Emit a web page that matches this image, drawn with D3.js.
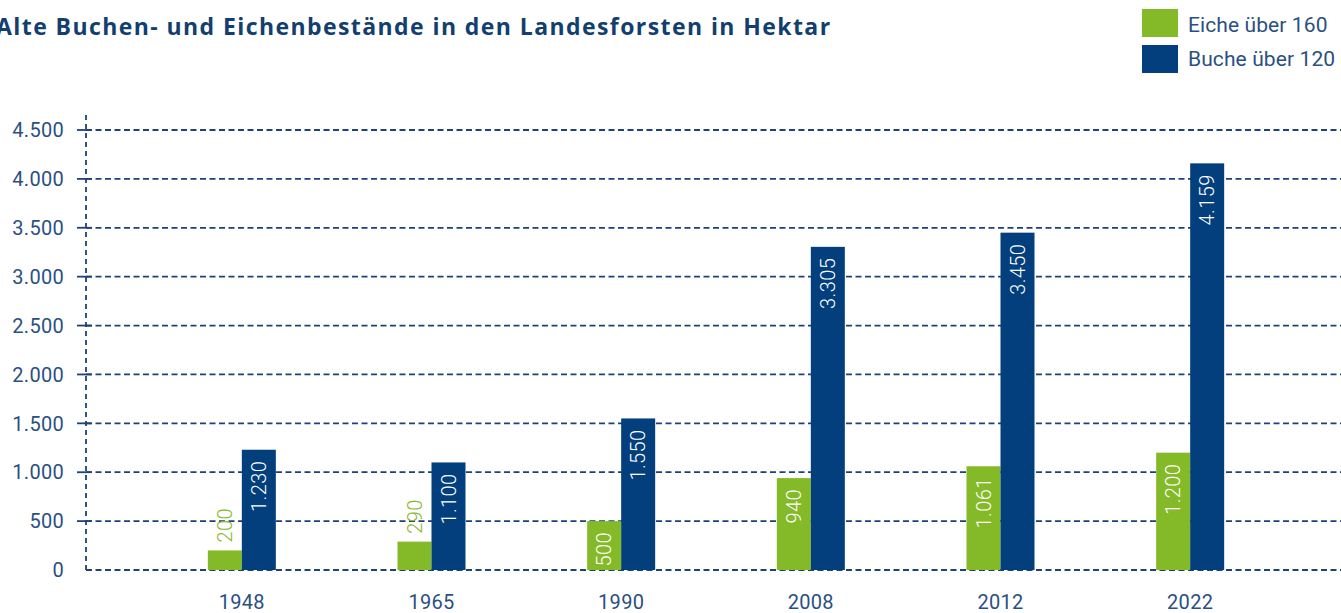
<!DOCTYPE html>
<html>
<head>
<meta charset="utf-8">
<script src="https://cdn.jsdelivr.net/npm/d3@7"></script>
<style>
  body { margin: 0; background: #fff; overflow: hidden; }
  text { font-family: Roboto, "Noto Sans", sans-serif; }
</style>
</head>
<body>
<div id="chart"></div>
<script>
var w = 1341
var h = 613

var years = ["1948", "1965", "1990", "2008", "2012", "2022"]
var eiche = [200, 290, 500, 940, 1061, 1200]
var buche = [1230, 1100, 1550, 3305, 3450, 4159]
var yTicks = [0, 500, 1000, 1500, 2000, 2500, 3000, 3500, 4000, 4500]
var seriesNames = ["Eiche über 160", "Buche über 120"]

var green = "#84b927"
var blue = "#023f7c"
var ink = "#2a5082"
var gridCol = "#1e4277"

var de = d3.formatLocale({decimal: ",", thousands: ".", grouping: [3], currency: ["", "€"]})
var fmt = de.format(",d")

var svg = d3.select("#chart").append("svg").attr("width", w).attr("height", h)

var y = d3.scaleLinear().domain([0, 4500]).range([570, 130])
var x = d3.scaleBand().domain(years).range([147, 1285]).padding(0)
var sub = d3.scaleBand().domain([0, 1]).range([-34, 34])

// title - reference font is wide, spread letters a bit to match its width
var title = svg.append("text")
    .attr("x", -4).attr("y", 35)
    .style("font-family", "'Open Sans', Roboto, sans-serif")
    .attr("font-size", 23).attr("font-weight", 700)
    .attr("fill", "#123e70")
    .text("Alte Buchen- und Eichenbestände in den Landesforsten in Hektar")
var tl = title.node().getComputedTextLength()
var n = title.text().length
title.attr("letter-spacing", ((834 - tl) / (n - 1)).toFixed(2) + "px")

// legend
var leg = svg.append("g").attr("transform", "translate(1142,9)")
leg.selectAll("rect").data([green, blue]).enter().append("rect")
    .attr("x", 0).attr("y", function(d, i) { return i * 36 })
    .attr("width", 36).attr("height", 28)
    .attr("fill", function(d) { return d })
leg.selectAll("text").data(seriesNames).enter().append("text")
    .attr("x", 46).attr("y", function(d, i) { return i * 34 + 16 })
    .attr("dy", "0.35em")
    .attr("font-size", 21).attr("fill", ink)
    .attr("letter-spacing", "0.1px")
    .text(function(d) { return d })

// grid + y axis
svg.selectAll(".grid").data(yTicks).enter().append("line")
    .attr("x1", 86).attr("x2", w)
    .attr("y1", function(d) { return y(d) }).attr("y2", function(d) { return y(d) })
    .attr("stroke", gridCol).attr("stroke-width", 1.8)
    .attr("stroke-dasharray", "6,3.5")

svg.append("line")
    .attr("x1", 86).attr("x2", 86).attr("y1", 115).attr("y2", 570)
    .attr("stroke", gridCol).attr("stroke-width", 1.8)
    .attr("stroke-dasharray", "5,4")

svg.selectAll(".tick").data(yTicks.filter(function(d) { return d > 0 })).enter().append("line")
    .attr("x1", 77).attr("x2", 92)
    .attr("y1", function(d) { return y(d) }).attr("y2", function(d) { return y(d) })
    .attr("stroke", gridCol).attr("stroke-width", 1.8)

svg.selectAll(".ylab").data(yTicks).enter().append("text")
    .attr("x", 64).attr("y", function(d) { return y(d) })
    .attr("dy", "0.36em").attr("text-anchor", "end")
    .attr("font-size", 20).attr("fill", ink)
    .attr("letter-spacing", "0.3px")
    .text(function(d) { return fmt(d) })

// x labels
svg.selectAll(".xlab").data(years).enter().append("text")
    .attr("x", function(d) { return x(d) + x.bandwidth() / 2 })
    .attr("y", 602).attr("dy", "0.36em").attr("text-anchor", "middle")
    .attr("font-size", 20).attr("fill", ink)
    .attr("letter-spacing", "0.3px")
    .text(function(d) { return d })

// bars
var bars = []
years.forEach(function(yr, i) {
    bars.push({year: yr, s: 0, v: eiche[i], color: green})
    bars.push({year: yr, s: 1, v: buche[i], color: blue})
})

function cx(d) { return x(d.year) + x.bandwidth() / 2 + sub(d.s) }
function inside(d) { return y(0) - y(d.v) > 45 }

svg.selectAll(".bar").data(bars).enter().append("rect")
    .attr("x", cx)
    .attr("y", function(d) { return y(d.v) })
    .attr("width", sub.bandwidth())
    .attr("height", function(d) { return y(0) - y(d.v) })
    .attr("fill", function(d) { return d.color })

svg.selectAll(".val").data(bars).enter().append("text")
    .attr("transform", function(d) {
        var ty = inside(d) ? y(d.v) + 11 : y(d.v) - 8
        return "translate(" + (cx(d) + sub.bandwidth() / 2) + "," + ty + ") rotate(-90)"
    })
    .attr("text-anchor", function(d) { return inside(d) ? "end" : "start" })
    .attr("dy", "0.36em")
    .attr("font-size", 20).attr("font-weight", 300)
    .attr("letter-spacing", "0.4px")
    .attr("fill", function(d) { return inside(d) ? "#fff" : green })
    .text(function(d) { return fmt(d.v) })
</script>
</body>
</html>
